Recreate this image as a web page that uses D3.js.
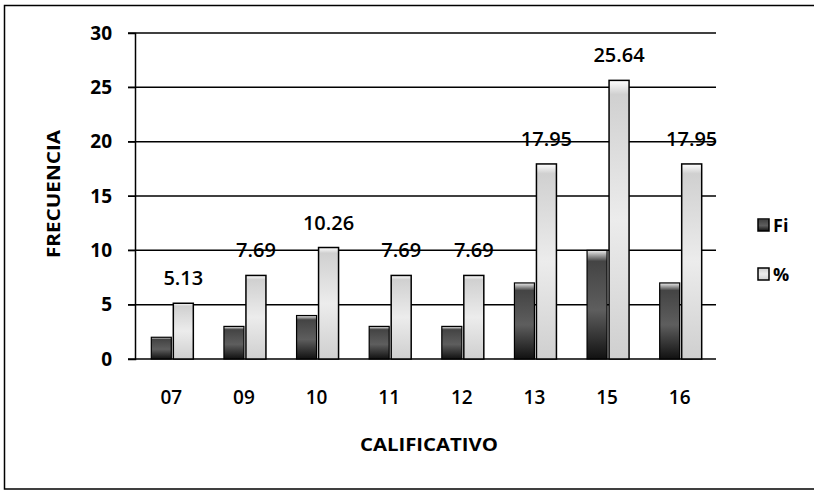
<!DOCTYPE html>
<html><head><meta charset="utf-8">
<script src="https://cdn.jsdelivr.net/npm/d3@7"></script>
<style>body{margin:0;background:#fff}svg{display:block}</style>
</head><body>
<script>
const categories = ["07","09","10","11","12","13","15","16"];
const fi = [2,3,4,3,3,7,10,7];
const pct = [5.13,7.69,10.26,7.69,7.69,17.95,25.64,17.95];
const pctLabels = ["5.13","7.69","10.26","7.69","7.69","17.95","25.64","17.95"];
const yTicks = [0,5,10,15,20,25,30];
const seriesNames = ["Fi","%"];

(function(){
const W=814,H=492;
const svg=d3.select("body").append("svg").attr("width",W).attr("height",H);
const font="'Open Sans', Lato, sans-serif";

const defs=svg.append("defs");
const g1=defs.append("linearGradient").attr("id","gFi").attr("x1",0).attr("y1",0).attr("x2",0).attr("y2",1);
g1.append("stop").attr("offset","0%").attr("stop-color","#eeeeee");
g1.append("stop").attr("offset","10%").attr("stop-color","#444");
g1.append("stop").attr("offset","55%").attr("stop-color","#5e5e5e");
g1.append("stop").attr("offset","100%").attr("stop-color","#111");
const g2=defs.append("linearGradient").attr("id","gP").attr("x1",0).attr("y1",0).attr("x2",0).attr("y2",1);
g2.append("stop").attr("offset","0%").attr("stop-color","#ffffff");
g2.append("stop").attr("offset","5%").attr("stop-color","#d0d0d0");
g2.append("stop").attr("offset","50%").attr("stop-color","#ececec");
g2.append("stop").attr("offset","100%").attr("stop-color","#cfcfcf");

// outer border
svg.append("rect").attr("x",4.5).attr("y",5.5).attr("width",W+20).attr("height",483.5)
  .attr("fill","none").attr("stroke","#000").attr("stroke-width",1.5);

const pL=135,pR=716,pT=33,pB=359;
const x=d3.scaleBand().domain(categories).range([pL,pR]);
const y=d3.scaleLinear().domain([0,30]).range([pB,pT]);

// gridlines
svg.append("g").selectAll("line").data(yTicks).join("line")
  .attr("x1",pL-7).attr("x2",pR).attr("y1",d=>y(d)).attr("y2",d=>y(d))
  .attr("stroke","#000").attr("stroke-width",1.5);

// y axis
const ya=svg.append("g").attr("transform",`translate(${pL},0)`)
  .call(d3.axisLeft(y).tickValues(yTicks).tickSize(7).tickPadding(16));
ya.select(".domain").attr("stroke","#000").attr("stroke-width",1.5);
ya.selectAll(".tick line").attr("stroke","#000");
ya.selectAll("text").attr("font-family",font).attr("font-size",19).attr("font-weight",700).attr("fill","#000");

// x axis labels
const xa=svg.append("g").attr("transform",`translate(0,${pB})`)
  .call(d3.axisBottom(x).tickSize(0).tickPadding(32));
xa.select(".domain").remove();
xa.selectAll("text").attr("font-family",font).attr("font-size",19).attr("font-weight",600).attr("fill","#000");

const bw=20, gap=2;
const grp=svg.append("g");
grp.selectAll("rect.fi").data(categories).join("rect").attr("class","fi")
  .attr("x",(d)=>x(d)+x.bandwidth()/2-bw-gap/2+1).attr("width",bw)
  .attr("y",(d,i)=>y(fi[i])).attr("height",(d,i)=>pB-y(fi[i]))
  .attr("fill","url(#gFi)").attr("stroke","#000").attr("stroke-width",1.2);
grp.selectAll("rect.p").data(categories).join("rect").attr("class","p")
  .attr("x",(d)=>x(d)+x.bandwidth()/2+gap/2+1).attr("width",bw)
  .attr("y",(d,i)=>y(pct[i])).attr("height",(d,i)=>pB-y(pct[i]))
  .attr("fill","url(#gP)").attr("stroke","#000").attr("stroke-width",1.5);

// data labels
svg.append("g").selectAll("text").data(categories).join("text")
  .attr("x",(d)=>x(d)+x.bandwidth()/2+gap/2+1+bw/2)
  .attr("y",(d,i)=>y(pct[i])-18)
  .attr("text-anchor","middle").attr("font-family",font).attr("font-size",20).attr("font-weight",600)
  .attr("fill","#000").text((d,i)=>pctLabels[i]);

// axis titles
svg.append("text").attr("x",429).attr("y",451).attr("text-anchor","middle")
  .attr("font-family",font).attr("font-size",17).attr("font-weight",700)
  .attr("textLength",138).attr("lengthAdjust","spacingAndGlyphs").text("CALIFICATIVO");
svg.append("text").attr("transform","translate(60,194) rotate(-90)").attr("text-anchor","middle")
  .attr("font-family",font).attr("font-size",17).attr("font-weight",700)
  .attr("textLength",128).attr("lengthAdjust","spacingAndGlyphs").text("FRECUENCIA");

// legend
const lg=svg.append("g").attr("transform","translate(758,0)");
const ly=[219,268];
lg.selectAll("rect").data(seriesNames).join("rect")
  .attr("x",0).attr("y",(d,i)=>ly[i]).attr("width",11).attr("height",12)
  .attr("fill",(d,i)=>i===0?"url(#gFi)":"url(#gP)").attr("stroke","#000").attr("stroke-width",1.5);
lg.selectAll("text").data(seriesNames).join("text")
  .attr("x",15).attr("y",(d,i)=>ly[i]+13)
  .attr("font-family",font).attr("font-size",18).attr("font-weight",700).text(d=>d);
})();
</script>
</body></html>
